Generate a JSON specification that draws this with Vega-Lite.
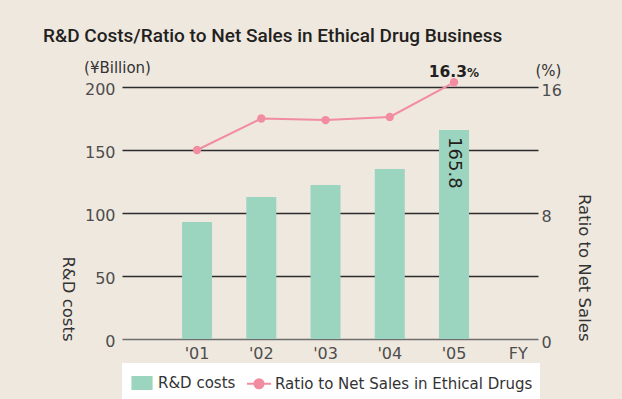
{
  "$schema": "https://vega.github.io/schema/vega-lite/v6.json",
  "width": 416,
  "height": 252,
  "autosize": {"type": "none"},
  "padding": {"left": 122, "top": 87, "right": 84, "bottom": 60},
  "background": "#efe8df",
  "title": {
    "text": "R&D Costs/Ratio to Net Sales in Ethical Drug Business",
    "anchor": "start",
    "frame": "group",
    "dx": -79,
    "font": "Roboto",
    "fontSize": 19,
    "fontWeight": 500,
    "color": "#231f20",
    "offset": 14
  },
  "data": {
    "values": [
      {"year": "'01", "cost": 92.9, "ratio": 12.0},
      {"year": "'02", "cost": 112.7, "ratio": 14.0},
      {"year": "'03", "cost": 122.2, "ratio": 13.9},
      {"year": "'04", "cost": 134.9, "ratio": 14.1},
      {"year": "'05", "cost": 165.8, "ratio": 16.3}
    ]
  },
  "encoding": {
    "x": {
      "field": "year",
      "type": "nominal",
      "sort": null,
      "scale": {
        "domain": ["'01", "'02", "'03", "'04", "'05", "FY"],
        "paddingInner": 0.533,
        "paddingOuter": 0.504,
        "align": 0.927
      },
      "axis": {"title": null, "labelAngle": 0, "labelPadding": 6, "labelFontSize": 16, "grid": false}
    }
  },
  "layer": [
    {
      "mark": {"type": "bar"},
      "encoding": {
        "y": {
          "field": "cost",
          "type": "quantitative",
          "scale": {"domain": [0, 200]},
          "axis": {
            "orient": "left",
            "values": [0, 50, 100, 150, 200],
            "grid": true,
            "gridColor": {"condition": {"test": "datum.value === 0", "value": "#6e6e6e"}, "value": "#2b2b2b"},
            "gridWidth": 1.5,
            "labelPadding": 7,
            "labelOffset": 2,
            "title": "R&D costs",
            "titleAngle": 90,
            "titleAlign": "right",
            "titleBaseline": "middle",
            "titleX": -55,
            "titleY": 254
          }
        },
        "color": {
          "datum": "R&D costs",
          "type": "nominal",
          "scale": {
            "domain": ["R&D costs", "Ratio to Net Sales in Ethical Drugs"],
            "range": ["#9cd5bf", "#f28ca0"]
          },
          "legend": {
            "title": null,
            "orient": "bottom",
            "direction": "horizontal",
            "fillColor": "white",
            "padding": 7,
            "offset": 2,
            "labelFont": "DejaVu Sans",
            "labelFontSize": 15,
            "labelColor": "#333333",
            "labelLimit": 400,
            "symbolSize": 576,
            "labelOffset": 3,
            "columnPadding": 7,
            "encode": {
              "symbols": {
                "update": {
                  "shape": {"signal": "datum.value === 'R&D costs' ? 'M-0.8,-0.5H0.8V0.5H-0.8Z' : 'M-1,0H1M0.375,0A0.375,0.375,0,1,1,-0.375,0A0.375,0.375,0,1,1,0.375,0Z'"},
                  "fill": {"signal": "datum.value === 'R&D costs' ? '#9cd5bf' : '#f28ca0'"},
                  "stroke": {"signal": "datum.value === 'R&D costs' ? '#9cd5bf' : '#f28ca0'"},
                  "strokeWidth": {"value": 2},
                  "opacity": {"value": 1},
                  "fillOpacity": {"value": 1},
                  "size": {"value": 576}
                }
              }
            }
          }
        }
      }
    },
    {
      "encoding": {
        "y": {
          "field": "ratio",
          "type": "quantitative",
          "scale": {"domain": [0, 16]},
          "axis": {
            "orient": "right",
            "values": [0, 8, 16],
            "grid": false,
            "labelPadding": 3,
            "labelOffset": 3,
            "title": "Ratio to Net Sales",
            "titleAngle": 90,
            "titleAlign": "right",
            "titleBaseline": "middle",
            "titleX": 45,
            "titleY": 254
          }
        },
        "color": {"datum": "Ratio to Net Sales in Ethical Drugs", "type": "nominal"}
      },
      "layer": [
        {"mark": {"type": "line", "strokeWidth": 2}},
        {"mark": {"type": "point", "filled": true, "size": 70, "opacity": 1}}
      ]
    },
    {
      "transform": [{"filter": {"field": "year", "equal": "'05"}}],
      "mark": {"type": "text", "angle": 90, "align": "left", "baseline": "middle", "dx": 7, "fontSize": 18, "font": "DejaVu Sans", "color": "#231f20"},
      "encoding": {
        "y": {
          "field": "cost",
          "type": "quantitative",
          "scale": {"domain": [0, 200]},
          "axis": {
            "orient": "left",
            "labels": false,
            "grid": false,
            "title": "(¥Billion)",
            "titleAngle": 0,
            "titleAlign": "center",
            "titleBaseline": "middle",
            "titleX": -5,
            "titleY": -20,
            "titleFontSize": 15
          }
        },
        "text": {"field": "cost", "type": "quantitative", "format": ".1f"}
      }
    },
    {
      "transform": [{"filter": {"field": "year", "equal": "'05"}}],
      "encoding": {
        "y": {
          "field": "ratio",
          "type": "quantitative",
          "scale": {"domain": [0, 16]},
          "axis": {
            "orient": "right",
            "labels": false,
            "grid": false,
            "title": "(%)",
            "titleAngle": 0,
            "titleAlign": "center",
            "titleBaseline": "middle",
            "titleX": 10,
            "titleY": -17,
            "titleFontSize": 15
          }
        }
      },
      "layer": [
        {
          "mark": {"type": "text", "align": "right", "baseline": "alphabetic", "dx": 13, "dy": -5, "fontSize": 15.5, "fontWeight": "bold", "font": "DejaVu Sans", "color": "#231f20"},
          "encoding": {"text": {"field": "ratio", "type": "quantitative", "format": ".1f"}}
        },
        {
          "mark": {"type": "text", "align": "left", "baseline": "alphabetic", "dx": 13, "dy": -5, "fontSize": 12, "fontWeight": "bold", "font": "DejaVu Sans", "color": "#231f20"},
          "encoding": {"text": {"value": "%"}}
        }
      ]
    }
  ],
  "resolve": {"scale": {"y": "independent"}},
  "config": {
    "view": {"stroke": null},
    "font": "DejaVu Sans",
    "axis": {
      "labelFont": "DejaVu Sans",
      "labelFontSize": 16,
      "labelColor": "#4d4d4d",
      "titleFont": "DejaVu Sans",
      "titleFontWeight": "normal",
      "titleColor": "#333333",
      "titleFontSize": 16.5,
      "ticks": false,
      "domain": false
    }
  }
}
